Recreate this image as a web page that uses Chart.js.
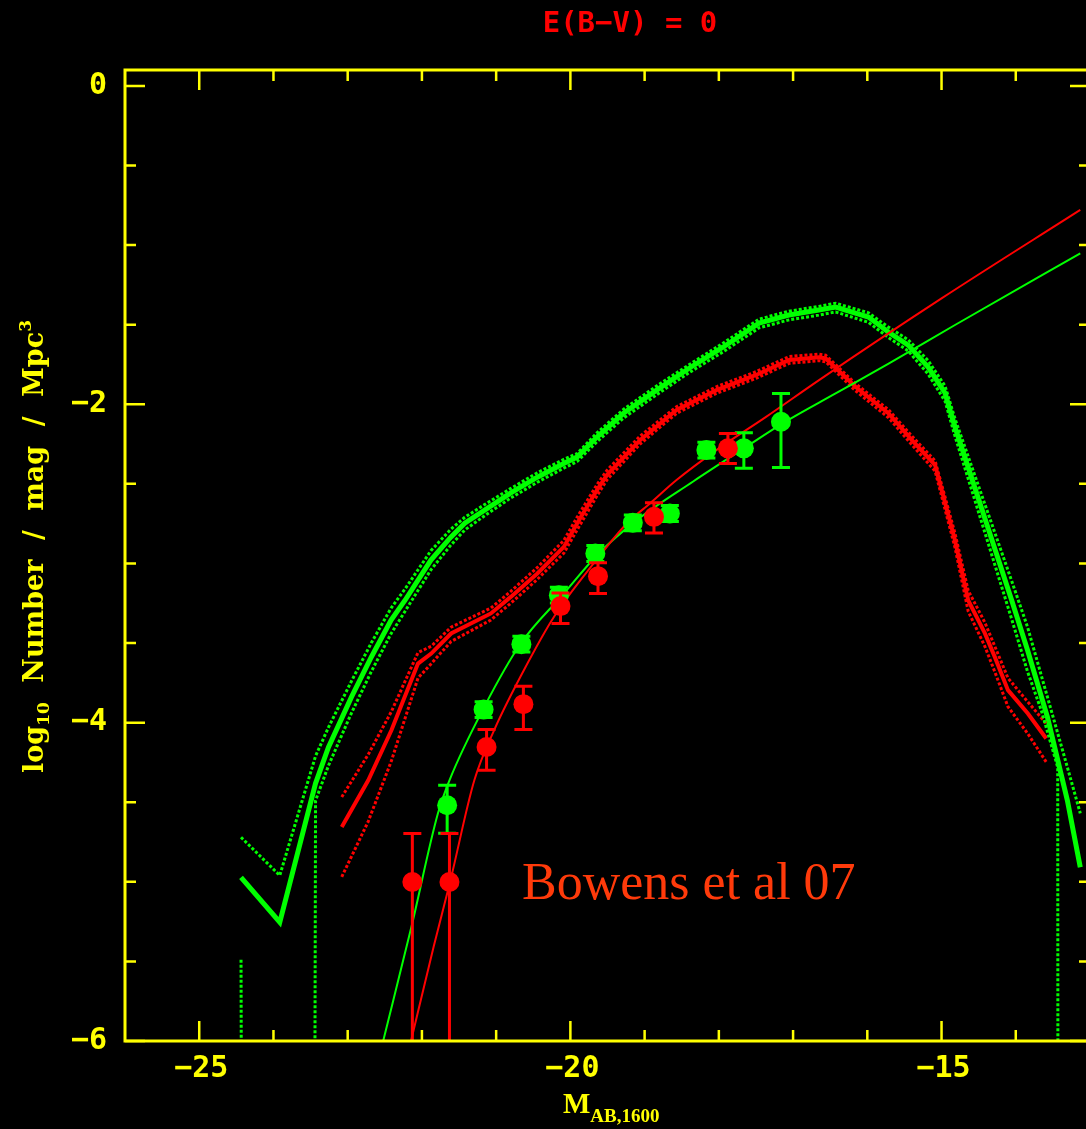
<!DOCTYPE html>
<html>
<head>
<meta charset="utf-8">
<script src="https://cdn.jsdelivr.net/npm/chart.js@4.4.0/dist/chart.umd.min.js"></script>
<style>
  html, body { margin: 0; padding: 0; background: #000; overflow: hidden; }
  #wrap { position: relative; width: 1100px; height: 1129px; }
</style>
</head>
<body>
<div id="wrap"><canvas id="lf" width="1100" height="1129"></canvas></div>
<script>
// model luminosity function, E(B-V)=0 (green) with its upper / lower dotted bands
const greenModelM = [-24.437, -23.915, -23.433, -23.259, -22.950, -22.683, -22.415, -22.227, -21.879, -21.611,
  -21.423, -21.155, -20.807, -20.445, -20.084, -19.910, -19.642, -19.280, -18.838, -18.396,
  -17.940, -17.458, -17.056, -16.654, -16.427, -15.985, -15.717, -15.449, -15.181, -14.953,
  -14.819, -14.055, -13.841, -13.573, -13.305, -13.131];
const greenModel = [-4.972, -5.254, -4.381, -4.154, -3.840, -3.589, -3.356, -3.231, -2.979, -2.835,
  -2.747, -2.665, -2.558, -2.458, -2.370, -2.332, -2.206, -2.055, -1.911, -1.772,
  -1.640, -1.490, -1.439, -1.408, -1.389, -1.452, -1.546, -1.628, -1.766, -1.929,
  -2.143, -3.231, -3.545, -3.966, -4.488, -4.909];
const greenModelHi = [-4.72, -4.96, -4.21, -4.03, -3.74, -3.50, -3.28, -3.16, -2.92, -2.785,
  -2.71, -2.63, -2.53, -2.43, -2.345, -2.31, -2.18, -2.03, -1.885, -1.75,
  -1.615, -1.465, -1.415, -1.385, -1.365, -1.425, -1.515, -1.595, -1.725, -1.885,
  -2.09, -3.11, -3.40, -3.84, -4.28, -4.57];
const greenModelLoM = [-24.437, -23.915, -23.433, -23.259, -22.950, -22.683, -22.415, -22.227, -21.879, -21.611,
  -21.423, -21.155, -20.807, -20.445, -20.084, -19.910, -19.642, -19.280, -18.838, -18.396,
  -17.940, -17.458, -17.056, -16.654, -16.427, -15.985, -15.717, -15.449, -15.181, -14.953,
  -14.819, -14.055, -13.841, -13.658, -13.435, -13.305];
const greenModelLo = [-5.49, -100, -4.49, -4.27, -3.94, -3.68, -3.44, -3.30, -3.04, -2.885,
  -2.79, -2.70, -2.59, -2.49, -2.40, -2.36, -2.235, -2.085, -1.94, -1.80,
  -1.67, -1.52, -1.47, -1.44, -1.42, -1.485, -1.58, -1.665, -1.81, -1.98,
  -2.20, -3.35, -3.68, -3.92, -4.28, -100];

// model with dust (red) and its dotted bands
const redModelM = [-23.080, -22.723, -22.411, -22.053, -21.875, -21.607, -21.071, -20.803, -20.445, -20.088,
  -19.910, -19.642, -19.508, -19.062, -18.570, -18.034, -17.498, -17.052, -16.650, -16.561,
  -16.159, -15.713, -15.399, -15.087, -14.819, -14.641, -14.417, -14.283, -14.105, -13.837, -13.590];
const redModel = [-4.655, -4.362, -4.048, -3.629, -3.566, -3.440, -3.314, -3.210, -3.063, -2.896,
  -2.749, -2.539, -2.445, -2.225, -2.036, -1.911, -1.816, -1.722, -1.705, -1.712,
  -1.890, -2.057, -2.225, -2.382, -2.854, -3.231, -3.438, -3.587, -3.796, -3.943, -4.100];
const redModelHi = [-4.467, -4.20, -3.93, -3.56, -3.52, -3.40, -3.28, -3.175, -3.025, -2.855,
  -2.71, -2.505, -2.415, -2.20, -2.015, -1.89, -1.795, -1.70, -1.685, -1.692,
  -1.87, -2.035, -2.20, -2.355, -2.81, -3.17, -3.37, -3.52, -3.72, -3.87, -4.006];
const redModelLo = [-4.969, -4.62, -4.24, -3.72, -3.63, -3.49, -3.355, -3.25, -3.10, -2.935,
  -2.79, -2.575, -2.475, -2.25, -2.057, -1.932, -1.837, -1.743, -1.726, -1.733,
  -1.915, -2.085, -2.255, -2.42, -2.90, -3.30, -3.52, -3.68, -3.90, -4.07, -4.247];

// Schechter fits (thin lines)
const greenFitM = [-22.522, -22.142, -21.785, -21.629, -21.160, -20.669, -20.088, -19.642, -19.106, -18.346,
  -17.663, -17.141, -16.427, -15.713, -14.819, -13.131];
const greenFit = [-6.0, -5.284, -4.571, -4.362, -3.901, -3.503, -3.189, -2.948, -2.728, -2.485,
  -2.277, -2.120, -1.932, -1.745, -1.502, -1.052];
const redFitM = [-22.147, -21.843, -21.616, -21.294, -21.028, -20.579, -20.222, -19.686, -19.240, -18.928,
  -18.570, -18.034, -17.364, -16.650, -15.000, -13.131];
const redFit = [-6.0, -5.410, -4.991, -4.362, -4.048, -3.629, -3.336, -3.000, -2.749, -2.623,
  -2.476, -2.288, -2.079, -1.848, -1.335, -0.779];

// Bouwens et al 07 points
const greenObsM = [-21.660, -21.169, -20.660, -20.155, -19.664, -19.159, -18.660, -18.168, -17.663, -17.163];
const greenObs = [-4.519, -3.918, -3.507, -3.199, -2.937, -2.745, -2.686, -2.288, -2.277, -2.110];
const greenErrUp = [0.126, 0.05, 0.05, 0.05, 0.05, 0.05, 0.05, 0.05, 0.098, 0.178];
const greenErrDown = [0.176, 0.05, 0.05, 0.05, 0.05, 0.05, 0.05, 0.05, 0.125, 0.287];
const redObsM = [-22.129, -21.629, -21.129, -20.633, -20.133, -19.628, -18.874, -17.878];
const redObs = [-5.001, -5.001, -4.153, -3.884, -3.268, -3.080, -2.707, -2.277];
const redErrUp = [0.304, 0.304, 0.110, 0.113, 0.083, 0.084, 0.088, 0.094];
const redErrDown = [1.5, 1.5, 0.146, 0.159, 0.109, 0.109, 0.101, 0.095];

// axes
const xMajorTicks = [-25, -20, -15];
const xMinorTicks = [-24, -23, -22, -21, -19, -18, -17, -16, -14];
const xTickLabels = ['\u221225', '\u221220', '\u221215'];
const yMajorTicks = [0, -2, -4, -6];
const yMinorTicks = [-0.5, -1, -1.5, -2.5, -3, -3.5, -4.5, -5, -5.5];
const yTickLabels = ['0', '\u22122', '\u22124', '\u22126'];

const GREEN = '#00ff00';
const RED = '#ff0000';
const YELLOW = '#ffff00';

const pts = (xs, ys) => xs.map((v, i) => ({ x: v, y: ys[i] }));

function lineSet(xs, ys, color, width, dash, order) {
  return {
    data: pts(xs, ys),
    showLine: true,
    borderColor: color,
    borderWidth: width,
    borderDash: dash,
    pointRadius: 0,
    tension: 0,
    order: order
  };
}

function fitSet(xs, ys, color) {
  const s = lineSet(xs, ys, color, 2, [], 2);
  s.cubicInterpolationMode = 'monotone';
  return s;
}

function pointSet(xs, ys, up, down, color) {
  return {
    data: pts(xs, ys),
    showLine: false,
    backgroundColor: color,
    borderWidth: 0,
    pointRadius: 10,
    pointHoverRadius: 10,
    errUp: up,
    errDown: down,
    order: 1
  };
}

// vertical error bars with caps, drawn right after their point dataset
const errorBars = {
  id: 'errorBars',
  afterDatasetDraw(chart, args) {
    const ds = chart.data.datasets[args.index];
    if (!ds.errUp) return;
    const { ctx, chartArea: a, scales: { x, y } } = chart;
    ctx.save();
    ctx.beginPath();
    ctx.rect(a.left, a.top, a.right - a.left, a.bottom - a.top);
    ctx.clip();
    ctx.strokeStyle = ds.backgroundColor;
    ctx.lineWidth = 3;
    ds.data.forEach((p, i) => {
      const px = x.getPixelForValue(p.x);
      const top = y.getPixelForValue(p.y + ds.errUp[i]);
      const bot = y.getPixelForValue(p.y - ds.errDown[i]);
      ctx.beginPath();
      ctx.moveTo(px, top); ctx.lineTo(px, bot);
      ctx.moveTo(px - 9, top); ctx.lineTo(px + 9, top);
      ctx.moveTo(px - 9, bot); ctx.lineTo(px + 9, bot);
      ctx.stroke();
    });
    ctx.restore();
  }
};

// draws text runs along the baseline; any width left over goes into the word gaps
function drawRuns(ctx, runs, totalWidth) {
  const pieces = [];
  runs.forEach(r => {
    r.text.split(/( )/).forEach(t => { if (t) pieces.push({ text: t, font: r.font, dy: r.dy }); });
  });
  let natural = 0, gaps = 0;
  pieces.forEach(p => {
    ctx.font = p.font;
    p.w = ctx.measureText(p.text).width;
    natural += p.w;
    if (p.text === ' ') gaps++;
  });
  const extra = totalWidth && gaps ? (totalWidth - natural) / gaps : 0;
  let cx = 0;
  pieces.forEach(p => {
    if (p.text === ' ') { cx += p.w + extra; return; }
    ctx.font = p.font;
    ctx.fillText(p.text, cx, p.dy);
    cx += p.w;
  });
}

// box, inward ticks on all four sides, labels and annotations
const frame = {
  id: 'frame',
  afterDraw(chart) {
    const { ctx, chartArea: a, scales: { x, y } } = chart;
    ctx.save();
    ctx.strokeStyle = YELLOW;
    ctx.lineWidth = 3;
    ctx.strokeRect(a.left, a.top, a.right - a.left, a.bottom - a.top);

    ctx.lineWidth = 2.5;
    ctx.beginPath();
    const xTick = (v, len) => {
      const px = x.getPixelForValue(v);
      ctx.moveTo(px, a.bottom); ctx.lineTo(px, a.bottom - len);
      ctx.moveTo(px, a.top); ctx.lineTo(px, a.top + len);
    };
    const yTick = (v, len) => {
      const py = y.getPixelForValue(v);
      ctx.moveTo(a.left, py); ctx.lineTo(a.left + len, py);
      ctx.moveTo(a.right, py); ctx.lineTo(a.right - len, py);
    };
    xMajorTicks.forEach(v => xTick(v, 20));
    xMinorTicks.forEach(v => xTick(v, 11));
    yMajorTicks.forEach(v => yTick(v, 20));
    yMinorTicks.forEach(v => yTick(v, 11));
    ctx.stroke();

    ctx.fillStyle = YELLOW;
    ctx.font = 'bold 30px "DejaVu Sans Mono"';
    ctx.textBaseline = 'middle';
    ctx.textAlign = 'center';
    xMajorTicks.forEach((v, i) => ctx.fillText(xTickLabels[i], x.getPixelForValue(v) + 2, a.bottom + 28));
    ctx.textAlign = 'right';
    yMajorTicks.forEach((v, i) => ctx.fillText(yTickLabels[i], a.left - 18, y.getPixelForValue(v)));

    // x title: M_AB,1600
    ctx.textAlign = 'left';
    ctx.textBaseline = 'alphabetic';
    ctx.save();
    ctx.translate(563, 1113);
    drawRuns(ctx, [
      { text: 'M', font: 'bold 29px "Liberation Serif"', dy: 0 },
      { text: 'AB,1600', font: 'bold 19px "Liberation Serif"', dy: 9 }
    ], 0);
    ctx.restore();

    // y title, rotated
    ctx.save();
    ctx.translate(43, 773);
    ctx.rotate(-Math.PI / 2);
    drawRuns(ctx, [
      { text: 'log', font: 'bold 27px "DejaVu Serif"', dy: 0 },
      { text: '10', font: 'bold 17px "DejaVu Serif"', dy: 6 },
      { text: ' Number / mag / Mpc', font: 'bold 27px "DejaVu Serif"', dy: 0 },
      { text: '3', font: 'bold 17px "DejaVu Serif"', dy: -12 }
    ], 453);
    ctx.restore();

    // title
    ctx.fillStyle = RED;
    ctx.font = 'bold 29px "DejaVu Sans Mono"';
    ctx.textAlign = 'center';
    ctx.textBaseline = 'middle';
    ctx.fillText('E(B\u2212V) = 0', 630, 24);

    // annotation
    ctx.fillStyle = '#ff3a0a';
    ctx.font = '52px "Liberation Serif"';
    ctx.textAlign = 'left';
    ctx.textBaseline = 'alphabetic';
    ctx.fillText('Bowens et al 07', 522, 899);
    ctx.restore();
  }
};

new Chart(document.getElementById('lf'), {
  type: 'scatter',
  data: {
    datasets: [
      pointSet(redObsM, redObs, redErrUp, redErrDown, RED),
      pointSet(greenObsM, greenObs, greenErrUp, greenErrDown, GREEN),
      fitSet(redFitM, redFit, RED),
      fitSet(greenFitM, greenFit, GREEN),
      lineSet(greenModelM, greenModelHi, GREEN, 3, [3, 2], 3),
      lineSet(greenModelLoM, greenModelLo, GREEN, 3, [3, 2], 3),
      lineSet(redModelM, redModelHi, RED, 3, [3, 2], 3),
      lineSet(redModelM, redModelLo, RED, 3, [3, 2], 3),
      lineSet(greenModelM, greenModel, GREEN, 5, [], 4),
      lineSet(redModelM, redModel, RED, 4, [], 4)
    ]
  },
  options: {
    responsive: false,
    devicePixelRatio: 1,
    animation: false,
    layout: { padding: { left: 125, right: 4, top: 70, bottom: 88 } },
    scales: {
      x: { type: 'linear', min: -26, max: -13, display: false },
      y: { type: 'linear', min: -6, max: 0.1, display: false }
    },
    plugins: { legend: { display: false }, tooltip: { enabled: false } }
  },
  plugins: [errorBars, frame]
});
</script>
</body>
</html>
